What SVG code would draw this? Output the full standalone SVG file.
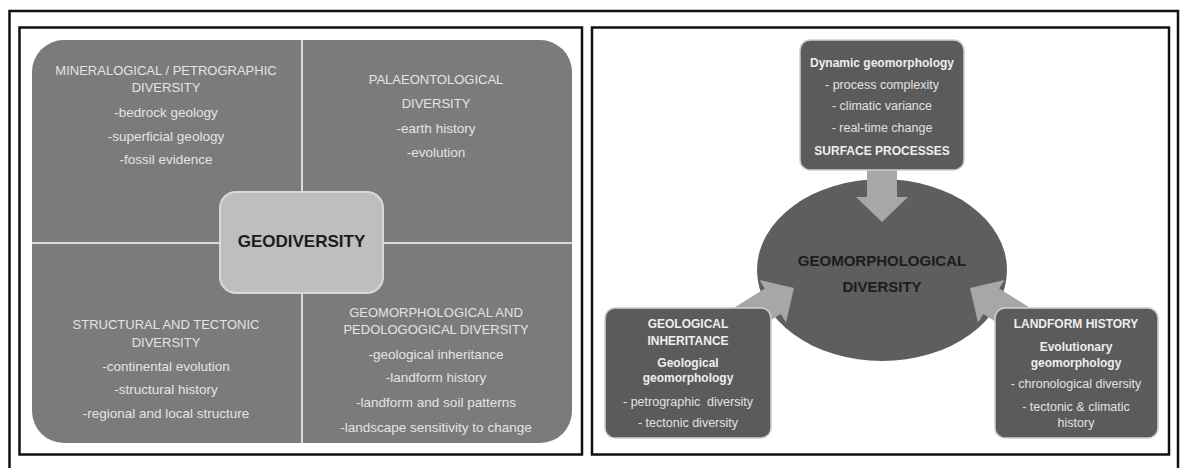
<svg xmlns="http://www.w3.org/2000/svg" width="1181" height="468" viewBox="0 0 1181 468">
  <style>
    .frame { fill: none; stroke: #111; stroke-width: 2.5; }
    .quad { font-family: "Liberation Sans", Arial, sans-serif; fill: #e4e4e4; text-anchor: middle; }
    .qh { font-size: 13px; }
    .qi { font-size: 13.5px; }
    .core { font-family: "Liberation Sans", Arial, sans-serif; font-weight: bold; fill: #1c1c1c; text-anchor: middle; }
    .box { fill: #5b5b5b; stroke: #cfcfcf; stroke-width: 1.5; }
    .bt { font-family: "Liberation Sans", Arial, sans-serif; fill: #e2e2e2; text-anchor: middle; }
    .bb { font-size: 12px; font-weight: bold; fill: #eeeeee; }
    .bi { font-size: 12.5px; }
    .arrow { fill: #a7a7a7; }
  </style>
  <defs>
    <!-- block arrow, tip at origin, pointing along +x -->
    <polygon id="blockArrow" points="0,0 -25,-25 -25,-15 -80,-15 -80,15 -25,15 -25,25"/>
    <polygon id="blockArrowShort" points="0,0 -25,-26 -25,-15 -60,-15 -60,15 -25,15 -25,26"/>
  </defs>

  <rect width="1181" height="468" fill="#ffffff"/>

  <!-- page frame and panel frames -->
  <path class="frame" d="M9.5,480 V11 H1178 V480"/>
  <rect class="frame" x="19.5" y="27.5" width="562.5" height="427"/>
  <rect class="frame" x="592" y="27.5" width="577" height="427"/>

  <!-- ===== Left panel: geodiversity quadrants ===== -->
  <g id="quadrants">
    <rect x="32" y="40" width="540" height="403" rx="32" ry="32" fill="#7b7b7b"/>
    <line x1="302" y1="40" x2="302" y2="443" stroke="#dadada" stroke-width="2"/>
    <line x1="32" y1="243" x2="572" y2="243" stroke="#dadada" stroke-width="2"/>
  </g>

  <g id="mineralogical">
    <text class="quad qh" x="166" y="75">MINERALOGICAL / PETROGRAPHIC</text>
    <text class="quad qh" x="166" y="92">DIVERSITY</text>
    <text class="quad qi" x="166" y="117">-bedrock geology</text>
    <text class="quad qi" x="166" y="141">-superficial geology</text>
    <text class="quad qi" x="166" y="164">-fossil evidence</text>
  </g>

  <g id="palaeontological">
    <text class="quad qh" x="436" y="84">PALAEONTOLOGICAL</text>
    <text class="quad qh" x="436" y="108">DIVERSITY</text>
    <text class="quad qi" x="436" y="133">-earth history</text>
    <text class="quad qi" x="436" y="157">-evolution</text>
  </g>

  <g id="structural">
    <text class="quad qh" x="166" y="329">STRUCTURAL AND TECTONIC</text>
    <text class="quad qh" x="166" y="347">DIVERSITY</text>
    <text class="quad qi" x="166" y="371">-continental evolution</text>
    <text class="quad qi" x="166" y="394">-structural history</text>
    <text class="quad qi" x="166" y="418">-regional and local structure</text>
  </g>

  <g id="geomorph-pedo">
    <text class="quad qh" x="436" y="317">GEOMORPHOLOGICAL AND</text>
    <text class="quad qh" x="436" y="334">PEDOLOGOGICAL DIVERSITY</text>
    <text class="quad qi" x="436" y="359">-geological inheritance</text>
    <text class="quad qi" x="436" y="382">-landform history</text>
    <text class="quad qi" x="436" y="407">-landform and soil patterns</text>
    <text class="quad qi" x="436" y="432">-landscape sensitivity to change</text>
  </g>

  <g id="geodiversity">
    <rect x="220" y="192" width="163" height="101" rx="16" ry="16" fill="#bebebe" stroke="#d8d8d8" stroke-width="2"/>
    <text class="core" x="301.5" y="247" font-size="17">GEODIVERSITY</text>
  </g>

  <!-- ===== Right panel: geomorphological diversity ===== -->
  <g id="geomorphological-diversity">
    <ellipse cx="882" cy="270" rx="125" ry="91" fill="#5e5e5e"/>
    <text class="core" x="882" y="266" font-size="15">GEOMORPHOLOGICAL</text>
    <text class="core" x="882" y="292" font-size="15">DIVERSITY</text>
  </g>

  <g id="connectors">
    <use href="#blockArrowShort" class="arrow" transform="translate(882,222) rotate(90)"/>
    <use href="#blockArrow" class="arrow" transform="translate(794,288) rotate(-32)"/>
    <use href="#blockArrow" class="arrow" transform="translate(970,288) rotate(212)"/>
  </g>

  <g id="surface-processes">
    <rect class="box" x="800" y="40" width="164" height="130" rx="10" ry="10"/>
    <text class="bt bb" x="882" y="67">Dynamic geomorphology</text>
    <text class="bt bi" x="882" y="89">- process complexity</text>
    <text class="bt bi" x="882" y="110">- climatic variance</text>
    <text class="bt bi" x="882" y="132">- real-time change</text>
    <text class="bt bb" x="882" y="155">SURFACE PROCESSES</text>
  </g>

  <g id="geological-inheritance">
    <rect class="box" x="605" y="308" width="166" height="130" rx="10" ry="10"/>
    <text class="bt bb" x="688" y="328">GEOLOGICAL</text>
    <text class="bt bb" x="688" y="345">INHERITANCE</text>
    <text class="bt bb" x="688" y="367">Geological</text>
    <text class="bt bb" x="688" y="382">geomorphology</text>
    <text class="bt bi" x="688" y="406" xml:space="preserve">- petrographic  diversity</text>
    <text class="bt bi" x="688" y="427">- tectonic diversity</text>
  </g>

  <g id="landform-history">
    <rect class="box" x="995" y="308" width="163" height="130" rx="10" ry="10"/>
    <text class="bt bb" x="1076" y="328">LANDFORM HISTORY</text>
    <text class="bt bb" x="1076" y="351">Evolutionary</text>
    <text class="bt bb" x="1076" y="367">geomorphology</text>
    <text class="bt bi" x="1076" y="388">- chronological diversity</text>
    <text class="bt bi" x="1076" y="411">- tectonic &amp; climatic</text>
    <text class="bt bi" x="1076" y="427">history</text>
  </g>
</svg>
